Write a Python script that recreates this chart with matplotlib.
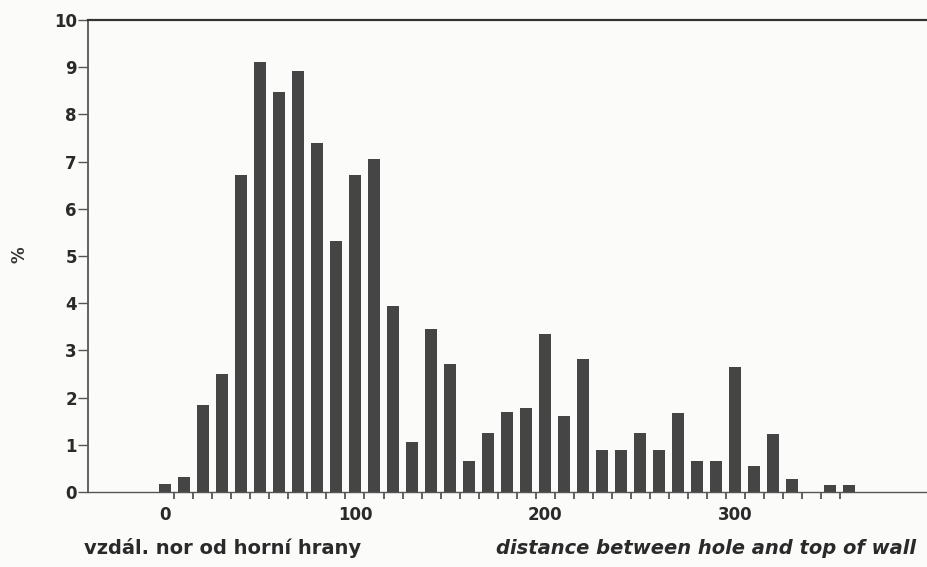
import numpy as np
import matplotlib.pyplot as plt

# stredy intervalu (cm) a podil (%)
vzdalenost = [0, 10, 20, 30, 40, 50, 60, 70, 80, 90, 100, 110, 120, 130, 140, 150,
              160, 170, 180, 190, 200, 210, 220, 230, 240, 250, 260, 270, 280, 290,
              300, 310, 320, 330, 340, 350, 360]
procenta = [0.16, 0.31, 1.85, 2.5, 6.72, 9.1, 8.47, 8.92, 7.4, 5.32, 6.72, 7.05,
            3.95, 1.05, 3.45, 2.72, 0.65, 1.25, 1.7, 1.78, 3.35, 1.6, 2.82, 0.9,
            0.9, 1.24, 0.9, 1.68, 0.65, 0.65, 2.65, 0.55, 1.22, 0.28, 0.0, 0.15, 0.15]
popisky_x = [0, 100, 200, 300]
hrany = np.arange(5, 360, 10)

plt.rcParams['font.family'] = ['DejaVu Sans']

fig = plt.figure(figsize=(9.28, 5.67), dpi=100)
fig.patch.set_facecolor('#fbfbfa')
ax = fig.add_axes([0.0948, 0.1323, 0.9052, 0.8324])
ax.set_facecolor('#fbfbfa')

ax.bar(vzdalenost, procenta, width=6.6, color='#454545', edgecolor='none', zorder=2)

ax.set_xlim(-40.5, 401.5)
ax.set_ylim(0, 10)

ax.spines['right'].set_visible(False)
ax.spines['top'].set_linewidth(1.6)
ax.spines['top'].set_color('#333333')
ax.spines['left'].set_color('#555555')
ax.spines['bottom'].set_color('#555555')
ax.spines['left'].set_linewidth(1.3)
ax.spines['bottom'].set_linewidth(1.0)

ax.set_yticks(range(0, 11))
ax.tick_params(axis='y', direction='out', length=7, width=1.0, color='#555555',
               labelsize=12, pad=1)
ax.set_xticks(popisky_x)
ax.set_xticks(hrany, minor=True)
ax.tick_params(axis='x', which='major', length=0, pad=10, labelsize=12)
ax.tick_params(axis='x', which='minor', direction='out', length=5, width=1.3,
               color='#555555')
for lab in ax.get_xticklabels() + ax.get_yticklabels():
    lab.set_fontweight('bold')
    lab.set_color('#2a2a2a')

fig.text(0.021, 0.55, '%', rotation=90, fontsize=12, fontweight='bold',
         color='#333333', ha='center', va='center')
fig.text(0.091, 0.033, 'vzdál. nor od horní hrany', fontsize=14, fontweight='bold',
         color='#2a2a2a', ha='left', va='center')
fig.text(0.535, 0.033, 'distance between hole and top of wall', fontsize=14,
         fontweight='bold', fontstyle='italic', color='#2a2a2a', ha='left', va='center')

fig.savefig('out.png', dpi=100, facecolor=fig.get_facecolor())
